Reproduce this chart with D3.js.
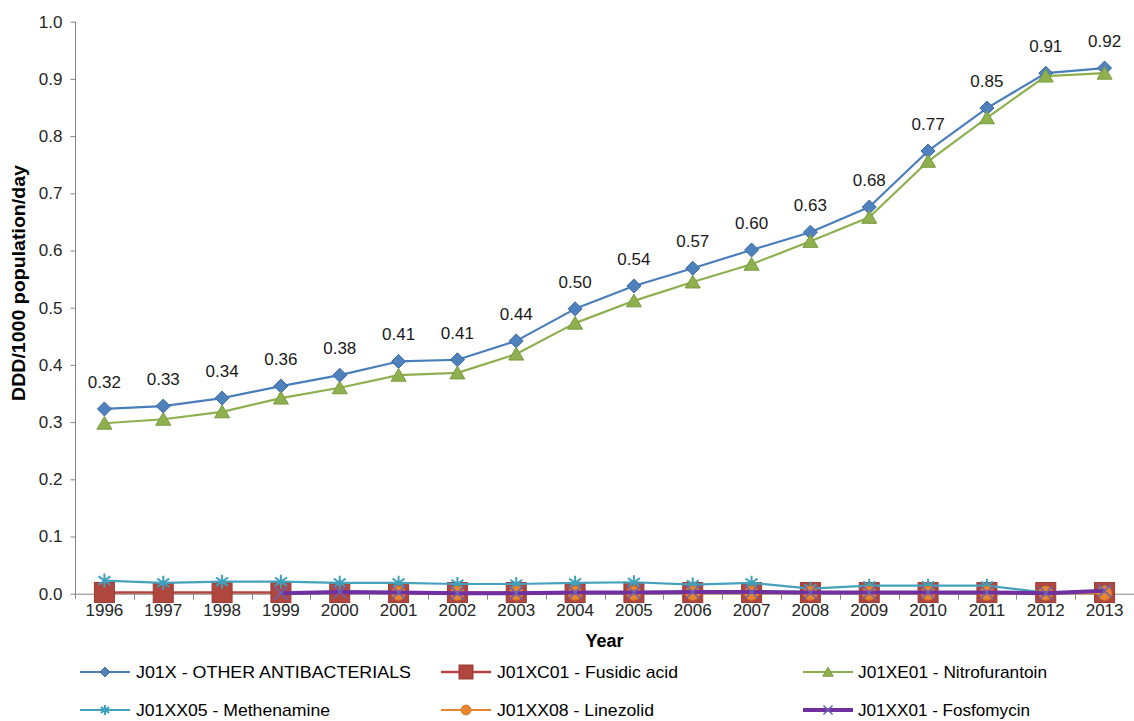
<!DOCTYPE html>
<html>
<head>
<meta charset="utf-8">
<script src="https://cdn.jsdelivr.net/npm/d3@7"></script>
<style>
  html, body { margin: 0; padding: 0; background: #fff; }
  svg { display: block; font-family: "Liberation Sans", Arial, sans-serif; }
</style>
</head>
<body>
<svg id="chart" width="1134" height="721"></svg>
<script>
// Antibacterial consumption, DDD per 1000 population per day
const years = ["1996","1997","1998","1999","2000","2001","2002","2003","2004",
               "2005","2006","2007","2008","2009","2010","2011","2012","2013"];

const otherAntibacterials = [0.323,0.328,0.342,0.363,0.382,0.406,0.409,0.442,0.498,
                             0.538,0.569,0.601,0.632,0.676,0.774,0.849,0.910,0.919];
const fusidicAcid = [0.002,0.002,0.002,0.002,0.002,0.002,0.002,0.002,0.002,
                     0.002,0.002,0.002,0.002,0.002,0.002,0.002,0.002,0.002];
const nitrofurantoin = [0.298,0.305,0.318,0.342,0.360,0.382,0.386,0.419,0.473,
                        0.512,0.545,0.576,0.616,0.658,0.756,0.832,0.905,0.910];
const methenamine = [0.023,0.019,0.021,0.021,0.019,0.019,0.017,0.017,0.019,
                     0.020,0.016,0.019,0.009,0.014,0.014,0.014,0.002,0.003];
const linezolid = [null,null,null,null,null,0.001,0.001,0.001,0.001,
                   0.001,0.001,0.001,0.001,0.001,0.001,0.001,0.001,0.001];
const fosfomycin = [null,null,null,0.001,0.003,0.002,0.001,0.001,0.002,
                    0.002,0.003,0.003,0.002,0.002,0.002,0.002,0.001,0.005];

const yTicks = [0,0.1,0.2,0.3,0.4,0.5,0.6,0.7,0.8,0.9,1.0];

const seriesNames = ["J01X - OTHER ANTIBACTERIALS","J01XC01 - Fusidic acid","J01XE01 - Nitrofurantoin",
                     "J01XX05 - Methenamine","J01XX08 - Linezolid","J01XX01 - Fosfomycin"];

const svg = d3.select("#chart");
const margin = { left: 75, right: 1134, top: 21.7, bottom: 593.7 };

const x = d3.scaleBand().domain(years).range([margin.left, margin.right]).padding(0);
const y = d3.scaleLinear().domain([0, 1]).range([margin.bottom, margin.top]);
const cx = d => x(d) + x.bandwidth() / 2;

// Marker shapes, drawn around (0,0)
const markers = {
  diamond: (g, s, fill, stroke) => g.append("path")
      .attr("d", `M0,${-s}L${s},0L0,${s}L${-s},0Z`).attr("fill", fill).attr("stroke", stroke).attr("stroke-width", 1),
  square: (g, s, fill, stroke) => g.append("rect")
      .attr("x", -s).attr("y", -s).attr("width", 2 * s).attr("height", 2 * s)
      .attr("fill", fill).attr("stroke", stroke).attr("stroke-width", 1),
  triangle: (g, s, fill, stroke) => g.append("path")
      .attr("d", `M0,${-s * 0.9}L${s},${s * 0.8}L${-s},${s * 0.8}Z`).attr("fill", fill).attr("stroke", stroke).attr("stroke-width", 1),
  star: (g, s, fill, stroke) => g.append("path")
      .attr("d", `M0,${-s}V${s}M${-s * 0.85},${-s * 0.6}L${s * 0.85},${s * 0.6}M${-s * 0.85},${s * 0.6}L${s * 0.85},${-s * 0.6}`)
      .attr("fill", "none").attr("stroke", stroke).attr("stroke-width", 2),
  circle: (g, s, fill, stroke) => g.append("circle")
      .attr("r", s).attr("fill", fill).attr("stroke", stroke).attr("stroke-width", 1),
  cross: (g, s, fill, stroke) => g.append("path")
      .attr("d", `M${-s},${-s}L${s},${s}M${-s},${s}L${s},${-s}`)
      .attr("fill", "none").attr("stroke", stroke).attr("stroke-width", 1.6)
};

const series = [
  { name: seriesNames[0], values: otherAntibacterials, line: "#4A7EBB", width: 2.2, marker: "diamond", size: 7,   fill: "#4F81BD", stroke: "#3D6AA3" },
  { name: seriesNames[1], values: fusidicAcid,         line: "#B4463F", width: 2.6, marker: "square",  size: 10,  fill: "#B0473F", stroke: "#9A3B35" },
  { name: seriesNames[2], values: nitrofurantoin,      line: "#8DB04E", width: 2.2, marker: "triangle",size: 7.5, fill: "#8FB04E", stroke: "#7A9A40" },
  { name: seriesNames[3], values: methenamine,         line: "#45A2BD", width: 2.2, marker: "star",    size: 7,   fill: "none",    stroke: "#3FA0BC" },
  { name: seriesNames[4], values: linezolid,           line: "#E8862F", width: 2.2, marker: "circle",  size: 7,   fill: "#E8862F", stroke: "#D47A2A" },
  { name: seriesNames[5], values: fosfomycin,          line: "#7030A0", width: 4,   marker: "cross",   size: 6.5, fill: "none",    stroke: "#6E62B0" }
];

// Axes
const yAxis = d3.axisLeft(y).tickValues(yTicks).tickFormat(d3.format(".1f")).tickSize(5).tickSizeOuter(0).tickPadding(8);
const gy = svg.append("g").attr("transform", `translate(${margin.left + 0.5},0)`).call(yAxis);
gy.select(".domain").attr("stroke", "#868686").attr("d", `M0,${margin.top}V${margin.bottom + 5}`);
gy.selectAll(".tick line").attr("stroke", "#868686");
gy.selectAll(".tick text").attr("font-size", 17).attr("fill", "#262626")
  .attr("font-family", "Liberation Sans, Arial, sans-serif");

const xAxis = d3.axisBottom(x).tickSize(0).tickPadding(10).tickSizeOuter(0);
const gx = svg.append("g").attr("transform", `translate(0,${margin.bottom})`).call(xAxis);
gx.select(".domain").attr("stroke", "#868686");
gx.selectAll(".tick text").attr("font-size", 17).attr("fill", "#262626")
  .attr("font-family", "Liberation Sans, Arial, sans-serif");
// Category boundary ticks
gx.selectAll(".bound").data(years.slice(1).concat(["end"])).enter().append("line")
  .attr("class", "bound")
  .attr("x1", (d, i) => Math.round(margin.left + (i + 1) * x.bandwidth()) + 0.5)
  .attr("x2", (d, i) => Math.round(margin.left + (i + 1) * x.bandwidth()) + 0.5)
  .attr("y1", 0).attr("y2", 6).attr("stroke", "#868686");

// Axis titles
svg.append("text").attr("x", (margin.left + margin.right) / 2).attr("y", 647)
  .attr("text-anchor", "middle").attr("font-weight", "bold").attr("font-size", 18).attr("fill", "#000")
  .text("Year");
svg.append("text").attr("transform", `translate(25,${283}) rotate(-90)`)
  .attr("text-anchor", "middle").attr("font-weight", "bold").attr("font-size", 18).attr("fill", "#000")
  .attr("textLength", 236).attr("lengthAdjust", "spacingAndGlyphs")
  .text("DDD/1000 population/day");

// Lines and markers
const plot = svg.append("g");
series.forEach(s => {
  const pts = years.map((yr, i) => ({ yr, v: s.values[i] })).filter(p => p.v !== null);
  const line = d3.line().x(p => cx(p.yr)).y(p => y(p.v));
  plot.append("path").datum(pts).attr("d", line).attr("fill", "none")
    .attr("stroke", s.line).attr("stroke-width", s.width).attr("stroke-linejoin", "round");
  pts.forEach(p => {
    const g = plot.append("g").attr("transform", `translate(${cx(p.yr)},${y(p.v)})`);
    markers[s.marker](g, s.size, s.fill, s.stroke);
  });
});

// Value labels on the total series
const total = series[0];
svg.append("g").selectAll("text").data(years.map((yr, i) => ({ yr, v: total.values[i] })))
  .enter().append("text")
  .attr("x", d => cx(d.yr)).attr("y", d => y(d.v) - 21)
  .attr("text-anchor", "middle").attr("font-size", 17).attr("fill", "#1a1a1a")
  .text(d => d.v.toFixed(2));

// Legend
const legendPos = [
  { lx: 80, tx: 136, ty: 672, w: 275 },
  { lx: 441, tx: 497, ty: 672, w: 181 },
  { lx: 803, tx: 858, ty: 672, w: 189 },
  { lx: 80, tx: 136, ty: 710, w: 194 },
  { lx: 441, tx: 497, ty: 710, w: 157 },
  { lx: 803, tx: 858, ty: 710, w: 172 }
];
const legend = svg.append("g");
series.forEach((s, i) => {
  const p = legendPos[i];
  const g = legend.append("g");
  g.append("line").attr("x1", p.lx).attr("x2", p.lx + 50).attr("y1", p.ty).attr("y2", p.ty)
    .attr("stroke", s.line).attr("stroke-width", s.width);
  const m = g.append("g").attr("transform", `translate(${p.lx + 25},${p.ty})`);
  markers[s.marker](m, s.size * 0.7, s.fill, s.stroke);
  g.append("text").attr("x", p.tx).attr("y", p.ty).attr("dy", "0.35em")
    .attr("font-size", 17).attr("fill", "#000")
    .attr("textLength", p.w).attr("lengthAdjust", "spacingAndGlyphs")
    .text(s.name);
});
</script>
</body>
</html>
